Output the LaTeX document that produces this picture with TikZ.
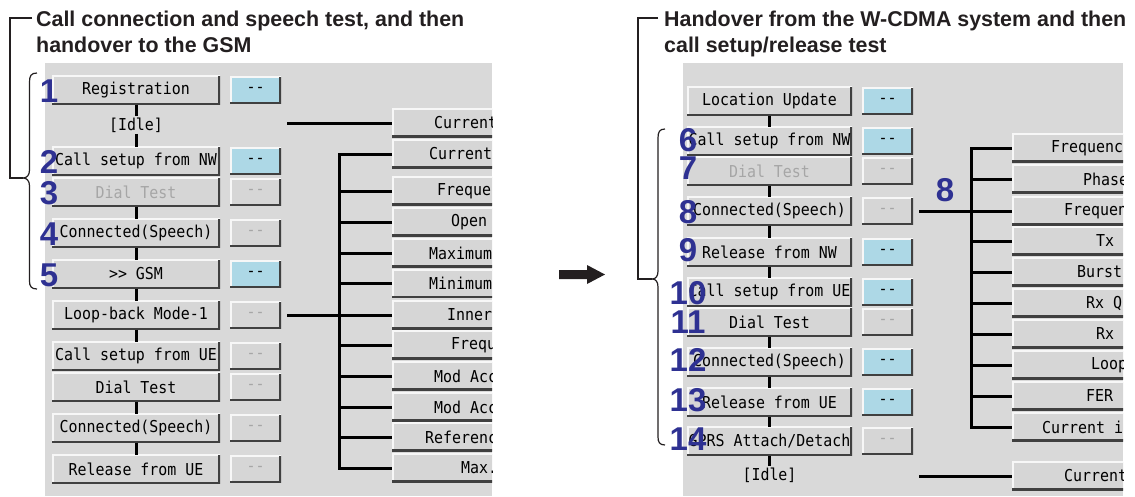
\documentclass[tikz,border=0pt]{standalone}
\usepackage{fontspec}
\newfontfamily\uifont[FakeStretch=0.91]{DejaVu Sans Mono}
\newfontfamily\headfont{Liberation Sans}
\usetikzlibrary{calc}

\definecolor{panel}{HTML}{D9D9D9}
\definecolor{btnface}{HTML}{D6D6D6}
\definecolor{btnlight}{HTML}{F7F7F7}
\definecolor{btnshade}{HTML}{404040}
\definecolor{active}{HTML}{ADD8E6}
\definecolor{dimtext}{HTML}{A6A6A6}
\definecolor{steplabel}{HTML}{2E3192}
\definecolor{ink}{HTML}{231F20}

% two hyphens without the TeX en-dash ligature
\newcommand\dashpair{-\kern0pt-}

\tikzset{
  bevel/.style={path picture={
    \draw[btnlight,line width=3pt]
      (path picture bounding box.south west) -- (path picture bounding box.north west)
      -- (path picture bounding box.north east);
    \draw[btnshade,line width=4pt]
      (path picture bounding box.south west) -- (path picture bounding box.south east)
      -- (path picture bounding box.north east);
  }},
  uitext/.style={font=\uifont\fontsize{16.4}{19}\selectfont},
  mainbtn/.style={bevel, fill=btnface, minimum width=168, minimum height=29,
    inner sep=0, outer sep=0, uitext, text=black},
  rmainbtn/.style={mainbtn, minimum width=165},
  sidebtn/.style={bevel, fill=btnface, minimum width=51, minimum height=27,
    inner sep=0, outer sep=0, uitext, text=dimtext},
  sidebtnon/.style={sidebtn, fill=active, text=black},
  idlelabel/.style={uitext, inner sep=1.5, outer sep=0},
  listbox/.style={bevel, fill=btnface, minimum width=150, minimum height=28.5,
    inner sep=0, outer sep=0, anchor=west},
  listtext/.style={uitext, inner sep=0, anchor=west},
  link/.style={draw=black, line width=3pt},
  bracket/.style={draw=ink, line width=1.2pt},
  title/.style={font=\headfont\bfseries\fontsize{21.4}{25}\selectfont, text=ink,
    inner sep=0, anchor=base west},
  steplabel/.style={font=\headfont\bfseries\fontsize{33}{36}\selectfont,
    text=steplabel, inner sep=0},
}

\begin{document}
\begin{tikzpicture}[x=1pt,y=-1pt]
\useasboundingbox (0,0) rectangle (1135,496);

% panel backgrounds
\fill[panel] (45,63) rectangle (492,496);
\fill[panel] (683,63) rectangle (1123,496);

% headings
\node[title] (LT1) at (36,26) {Call connection and speech test, and then};
\node[title] (LT2) at (36,52) {handover to the GSM};
\node[title] (RT1) at (664,26) {Handover from the W-CDMA system and then};
\node[title] (RT2) at (664,52) {call setup/release test};

% ---------------- left sequence ----------------
\node[mainbtn] (LReg) at (136,90) {Registration};
\node[sidebtnon] (LRegS) at (255.5,90) {\dashpair};
\node[idlelabel] (LIdle) at (136,125) {[Idle]};
\node[mainbtn] (LCallNW) at (136,161) {Call setup from NW};
\node[sidebtnon] (LCallNWS) at (255.5,161) {\dashpair};
\node[mainbtn,text=dimtext] (LDial) at (136,192) {Dial Test};
\node[sidebtn] (LDialS) at (255.5,192) {\dashpair};
\node[mainbtn] (LConn) at (136,233) {Connected(Speech)};
\node[sidebtn] (LConnS) at (255.5,233) {\dashpair};
\node[mainbtn] (LGsm) at (136,274) {>\kern0pt> GSM};
\node[sidebtnon] (LGsmS) at (255.5,274) {\dashpair};
\node[mainbtn] (LLoop) at (136,315) {Loop-back Mode-1};
\node[sidebtn] (LLoopS) at (255.5,315) {\dashpair};
\node[mainbtn] (LCallUE) at (136,356) {Call setup from UE};
\node[sidebtn] (LCallUES) at (255.5,356) {\dashpair};
\node[mainbtn] (LDial2) at (136,387) {Dial Test};
\node[sidebtn] (LDial2S) at (255.5,387) {\dashpair};
\node[mainbtn] (LConn2) at (136,428) {Connected(Speech)};
\node[sidebtn] (LConn2S) at (255.5,428) {\dashpair};
\node[mainbtn] (LRel) at (136,469) {Release from UE};
\node[sidebtn] (LRelS) at (255.5,469) {\dashpair};

\draw[link] (LReg) -- (LIdle);
\draw[link] (LIdle) -- (LCallNW);
\draw[link] (LDial) -- (LConn);
\draw[link] (LConn) -- (LGsm);
\draw[link] (LGsm) -- (LLoop);
\draw[link] (LLoop) -- (LCallUE);
\draw[link] (LDial2) -- (LConn2);
\draw[link] (LConn2) -- (LRel);

% left measurement list
\begin{scope}
  \clip (45,63) rectangle (492,496);
  \node[listbox] (LB1) at (392,123) {};
  \node[listbox] (LB2) at (392,154) {};
  \node[listbox] (LB3) at (392,191) {};
  \node[listbox] (LB4) at (392,222) {};
  \node[listbox] (LB5) at (392,253) {};
  \node[listbox] (LB6) at (392,283.5) {};
  \node[listbox] (LB7) at (392,315) {};
  \node[listbox] (LB8) at (392,345) {};
  \node[listbox] (LB9) at (392,376) {};
  \node[listbox] (LB10) at (392,407) {};
  \node[listbox] (LB11) at (392,437) {};
  \node[listbox] (LB12) at (392,468) {};
  \node[listtext] (LB1t) at (434,123) {Current};
  \node[listtext] (LB2t) at (429,154) {Current};
  \node[listtext] (LB3t) at (437,191) {Freque};
  \node[listtext] (LB4t) at (451,222) {Open};
  \node[listtext] (LB5t) at (429,253) {Maximum};
  \node[listtext] (LB6t) at (429,283.5) {Minimum};
  \node[listtext] (LB7t) at (447,315) {Inner};
  \node[listtext] (LB8t) at (451,345) {Frequ};
  \node[listtext] (LB9t) at (434,376) {Mod Acc};
  \node[listtext] (LB10t) at (434,407) {Mod Acc};
  \node[listtext] (LB11t) at (425,437) {Referenc};
  \node[listtext] (LB12t) at (461,468) {Max.};
\end{scope}

\coordinate (LIdleEnd) at (287,123);
\draw[link] (LIdleEnd) -- (LB1.west);
\draw[link,shorten <=6pt] (LLoopS.east) -- (LB7.west);
\draw[link] (LB2.west) -| ($(LB12.west)+(-53,0)$) -- (LB12.west);
\foreach \i in {3,...,11} \draw[link] (LB\i.west) -- ++(-53,0);

% ---------------- right sequence ----------------
\node[rmainbtn] (RLoc) at (769.5,101) {Location Update};
\node[sidebtnon] (RLocS) at (887.5,101) {\dashpair};
\node[rmainbtn] (R6) at (769.5,141) {Call setup from NW};
\node[sidebtnon] (R6S) at (887.5,141) {\dashpair};
\node[rmainbtn,text=dimtext] (R7) at (769.5,171) {Dial Test};
\node[sidebtn] (R7S) at (887.5,171) {\dashpair};
\node[rmainbtn] (R8) at (769.5,211) {Connected(Speech)};
\node[sidebtn] (R8S) at (887.5,211) {\dashpair};
\node[rmainbtn] (R9) at (769.5,252) {Release from NW};
\node[sidebtnon] (R9S) at (887.5,252) {\dashpair};
\node[rmainbtn] (R10) at (769.5,292) {Call setup from UE};
\node[sidebtnon] (R10S) at (887.5,292) {\dashpair};
\node[rmainbtn] (R11) at (769.5,322) {Dial Test};
\node[sidebtn] (R11S) at (887.5,322) {\dashpair};
\node[rmainbtn] (R12) at (769.5,362) {Connected(Speech)};
\node[sidebtnon] (R12S) at (887.5,362) {\dashpair};
\node[rmainbtn] (R13) at (769.5,402) {Release from UE};
\node[sidebtnon] (R13S) at (887.5,402) {\dashpair};
\node[rmainbtn] (R14) at (769.5,441) {GPRS Attach/Detach};
\node[sidebtn] (R14S) at (887.5,441) {\dashpair};
\node[idlelabel] (RIdle) at (769.5,475) {[Idle]};

\draw[link] (RLoc) -- (R6);
\draw[link] (R7) -- (R8);
\draw[link] (R8) -- (R9);
\draw[link] (R9) -- (R10);
\draw[link] (R11) -- (R12);
\draw[link] (R12) -- (R13);
\draw[link] (R13) -- (R14);
\draw[link] (R14) -- (RIdle);

% right measurement list
\begin{scope}
  \clip (683,63) rectangle (1123,496);
  \node[listbox] (RB1) at (1012,148) {};
  \node[listbox] (RB2) at (1012,179) {};
  \node[listbox] (RB3) at (1012,211) {};
  \node[listbox] (RB4) at (1012,241) {};
  \node[listbox] (RB5) at (1012,272) {};
  \node[listbox] (RB6) at (1012,303) {};
  \node[listbox] (RB7) at (1012,334) {};
  \node[listbox] (RB8) at (1012,365) {};
  \node[listbox] (RB9) at (1012,396) {};
  \node[listbox] (RB10) at (1012,427) {};
  \node[listbox] (RB11) at (1012,476) {};
  \node[listtext] (RB1t) at (1051,148) {Frequenc};
  \node[listtext] (RB2t) at (1083,179) {Phase};
  \node[listtext] (RB3t) at (1064,211) {Frequen};
  \node[listtext] (RB4t) at (1096,241) {Tx};
  \node[listtext] (RB5t) at (1077,272) {Burst};
  \node[listtext] (RB6t) at (1086,303) {Rx Q};
  \node[listtext] (RB7t) at (1096,334) {Rx};
  \node[listtext] (RB8t) at (1091,365) {Loop};
  \node[listtext] (RB9t) at (1086,396) {FER};
  \node[listtext] (RB10t) at (1042,427) {Current i};
  \node[listtext] (RB11t) at (1064,476) {Current};
\end{scope}

\coordinate (RIdleEnd) at (919,476);
\draw[link] (RIdleEnd) -- (RB11.west);
\draw[link,shorten <=6pt] (R8S.east) -- (RB3.west);
\draw[link] (RB1.west) -| ($(RB10.west)+(-41,0)$) -- (RB10.west);
\foreach \i in {2,...,9} \draw[link] (RB\i.west) -- ++(-41,0);

% ---------------- group brackets ----------------
\coordinate (LTip) at (23,178);
\coordinate (LHead) at (32,18);
\draw[bracket] (LHead) -- (10,18) -- (10,178) -- (LTip);
\draw[bracket] (37,73) .. controls (31,73) and (29.5,76) .. (29.5,82)
  -- (29.5,170) .. controls (29.5,175) and (27,178) .. (LTip)
  .. controls (27,178) and (29.5,181) .. (29.5,186)
  -- (29.5,281) .. controls (29.5,286) and (31,289) .. (37,289);

\coordinate (RTip) at (652,279);
\coordinate (RHead) at (658,18);
\draw[bracket] (RHead) -- (638,18) -- (638,279) -- (RTip);
\draw[bracket] (665,129) .. controls (659.5,129) and (658,132) .. (658,138)
  -- (658,271) .. controls (658,276) and (656,279) .. (RTip)
  .. controls (656,279) and (658,282) .. (658,287)
  -- (658,437) .. controls (658,442) and (659.5,445) .. (665,445);

% transition arrow
\fill[ink] (559,270) -- (587,270) -- (587,265) -- (605,274.5) -- (587,284)
  -- (587,279) -- (559,279) -- cycle;

% ---------------- step numbers ----------------
\node[steplabel] (N1) at (49,91) {1};
\node[steplabel] (N2) at (49,162) {2};
\node[steplabel] (N3) at (49,193) {3};
\node[steplabel] (N4) at (49,234) {4};
\node[steplabel] (N5) at (49,275) {5};
\node[steplabel] (N6) at (688,140) {6};
\node[steplabel] (N7) at (688,168) {7};
\node[steplabel] (N8) at (688,212) {8};
\node[steplabel] (N9) at (688,250) {9};
\node[steplabel] (N10) at (688,293) {10};
\node[steplabel] (N11) at (688,322) {11};
\node[steplabel] (N12) at (688,360) {12};
\node[steplabel] (N13) at (688,400) {13};
\node[steplabel] (N14) at (688,439) {14};
\node[steplabel] (N8m) at (945,190) {8};
\end{tikzpicture}
\end{document}
